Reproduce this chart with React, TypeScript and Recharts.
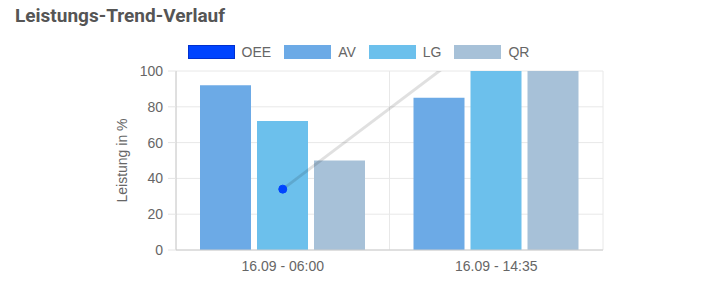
import React from 'react';
import {
  Bar,
  CartesianGrid,
  ComposedChart,
  Legend,
  Line,
  XAxis,
  YAxis,
} from 'recharts';

const categories = ['16.09 - 06:00', '16.09 - 14:35'];
const oeeValues = [34, 124];
const avValues = [92, 85];
const lgValues = [72, 100];
const qrValues = [50, 100];
const yTicks = [0, 20, 40, 60, 80, 100];
const gridTicks = [0, 1, 2];

const data = categories.map((name, i) => ({
  name,
  idx: i,
  OEE: oeeValues[i],
  AV: avValues[i],
  LG: lgValues[i],
  QR: qrValues[i],
}));

const legendBox: Record<string, { fill: string; border: string }> = {
  OEE: { fill: '#0044ff', border: '#0030d0' },
  AV: { fill: '#6caae6', border: '#6caae6' },
  LG: { fill: '#6cc0ec', border: '#6cc0ec' },
  QR: { fill: '#a7c1d8', border: '#a7c1d8' },
};

const font = '"Liberation Sans", Arial, sans-serif';

function renderLegend() {
  const items = ['OEE', 'AV', 'LG', 'QR'];
  return (
    <div style={{ display: 'flex', justifyContent: 'center', fontFamily: font, fontSize: 14, color: '#666' }}>
      {items.map((name) => (
        <div key={name} style={{ display: 'flex', alignItems: 'center', marginRight: 13 }}>
          <span
            style={{
              display: 'inline-block',
              width: 45,
              height: 12,
              background: legendBox[name].fill,
              border: `1px solid ${legendBox[name].border}`,
              marginRight: 7,
            }}
          />
          <span style={{ lineHeight: '16px' }}>{name}</span>
        </div>
      ))}
    </div>
  );
}

export default function App() {
  return (
    <div style={{ position: 'relative', margin: -8, width: 705, height: 281, background: '#fff', overflow: 'hidden' }}>
      <div
        style={{
          position: 'absolute',
          left: 0,
          top: 0,
          width: 6,
          height: 281,
          background: '#eef3f8',
          borderRight: '1px solid #e0e7ee',
        }}
      />
      <div
        style={{
          position: 'absolute',
          left: 15,
          top: 4,
          fontFamily: 'Roboto, sans-serif',
          fontWeight: 700,
          fontSize: 19,
          color: '#555',
        }}
      >
        Leistungs-Trend-Verlauf
      </div>
      <div style={{ position: 'absolute', left: 0, top: 0 }}>
        <ComposedChart
          width={705}
          height={281}
          data={data}
          margin={{ top: 71, right: 102, bottom: 0, left: 110 }}
          barCategoryGap={24}
          barGap={6}
        >
          <CartesianGrid xAxisId="grid" stroke="#e8e8e8" />
          <XAxis
            xAxisId="grid"
            type="number"
            dataKey="idx"
            domain={[0, 2]}
            ticks={gridTicks}
            height={0}
            axisLine={false}
            tickLine={{ stroke: '#dedede' }}
            tickSize={8}
            tickFormatter={() => ''}
          />
          <XAxis
            dataKey="name"
            height={31}
            axisLine={{ stroke: '#cccccc' }}
            tickLine={false}
            tickSize={0}
            tickMargin={11}
            tick={{ fill: '#666', fontSize: 14, fontFamily: font }}
          />
          <YAxis
            width={66}
            domain={[0, 100]}
            ticks={yTicks}
            allowDataOverflow
            axisLine={{ stroke: '#cccccc' }}
            tickLine={{ stroke: '#e4e4e4' }}
            tickSize={8}
            tickMargin={5}
            tick={{ fill: '#666', fontSize: 14, fontFamily: font }}
            label={{
              value: 'Leistung in %',
              angle: -90,
              position: 'insideLeft',
              offset: 12,
              style: { textAnchor: 'middle', fill: '#666', fontSize: 14, fontFamily: font },
            }}
          />
          <Legend
            layout="horizontal"
            verticalAlign="middle"
            align="center"
            content={renderLegend}
            wrapperStyle={{ top: 44, left: 18, width: 694 }}
          />
          <Bar dataKey="AV" fill="#6caae6" isAnimationActive={false} />
          <Bar dataKey="LG" fill="#6cc0ec" isAnimationActive={false} />
          <Bar dataKey="QR" fill="#a7c1d8" isAnimationActive={false} />
          <Line
            dataKey="OEE"
            stroke="rgba(0,0,0,0.12)"
            strokeWidth={3}
            dot={{ r: 4, fill: '#0044ff', stroke: '#0044ff', strokeWidth: 1 }}
            isAnimationActive={false}
          />
        </ComposedChart>
      </div>
    </div>
  );
}
